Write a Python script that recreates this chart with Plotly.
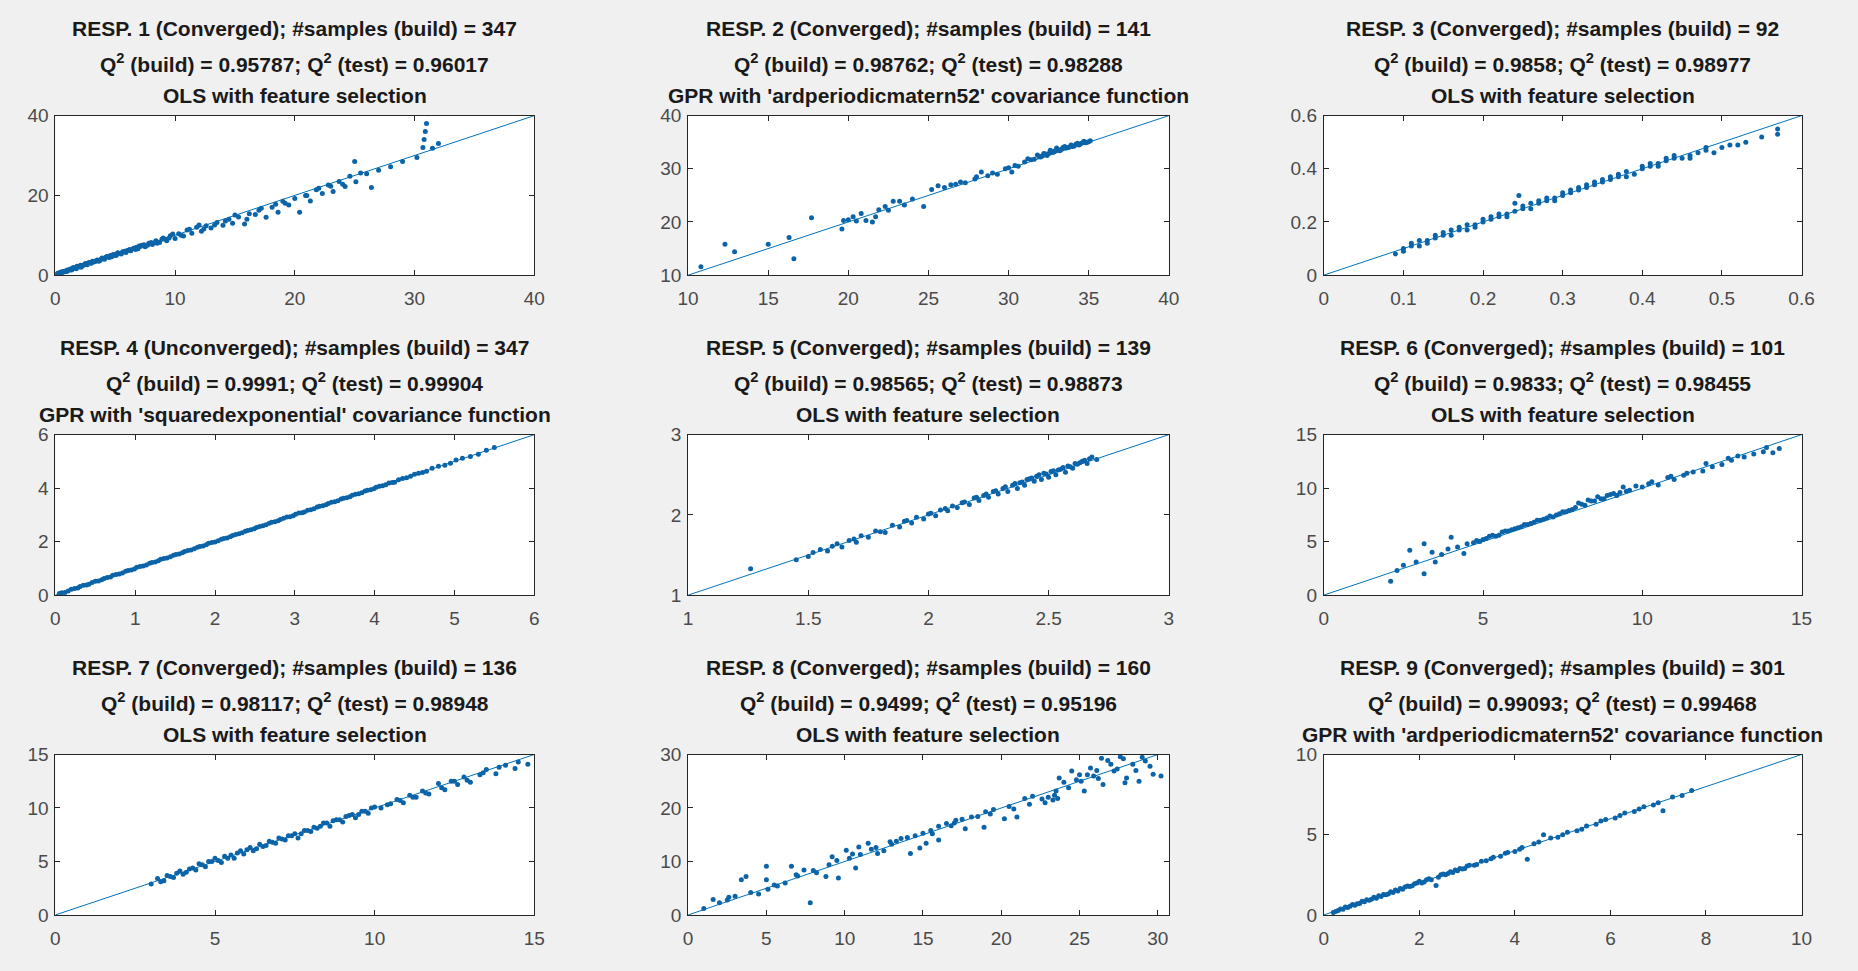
import plotly.graph_objects as go

# ---- observed vs. predicted values for each response ----
x1 = [0.1, 0.2, 0.3, 0.4, 0.5, 0.6, 0.7, 0.8, 0.9, 1.0, 1.1, 1.2, 1.3, 1.4, 1.5, 1.6, 1.7, 1.8, 2.0, 2.1,
      2.2, 2.3, 2.5, 2.6, 2.7, 2.8, 3.0, 3.1, 3.2, 3.3, 3.5, 3.7, 3.9, 4.1, 4.3, 4.5, 4.6, 4.8, 5.0, 5.2,
      5.5, 5.6, 5.8, 6.0, 6.3, 6.6, 6.7, 6.9, 7.0, 7.2, 7.5, 7.8, 8.1, 8.4, 8.5, 8.7, 9.0, 9.3, 9.6, 9.8,
      10.0, 10.3, 10.7, 11.0, 11.4, 11.8, 12.0, 12.2, 12.6, 13.0, 13.5, 14.0, 14.5, 14.8, 15.3, 15.8, 16.2, 16.7, 17.2, 17.6,
      18.1, 18.6, 19.0, 19.5, 20.0, 20.4, 20.9, 21.3, 21.8, 22.3, 22.8, 23.2, 23.7, 24.2, 24.6, 25.1, 25.5, 25.0, 26.4, 27.0,
      28.0, 29.0, 30.2, 30.7, 30.8, 30.9, 31.0, 31.2, 31.5, 32.0,
      0.15, 0.35, 0.55, 0.75, 0.95, 1.15, 1.35, 1.55, 1.75, 1.95, 2.15, 2.4, 2.65, 2.9, 3.4, 3.6, 3.8, 4.0, 4.2, 4.4,
      4.7, 4.9, 5.1, 5.3, 5.7, 5.9, 6.2, 6.5, 6.8, 7.1, 7.4, 7.7, 8.0, 8.3, 8.9, 9.2, 9.5, 10.5, 11.2, 12.4,
      13.3, 14.2, 15.0, 16.0, 17.0, 18.4, 19.2, 21.0, 22.0, 23.0, 24.0, 26.0]
y1 = [0.2, 0.5, 0.4, 0.7, 0.6, 0.9, 0.8, 1.0, 1.1, 1.3, 1.2, 1.4, 1.6, 1.5, 1.9, 1.7, 1.8, 2.2, 2.1, 2.5,
      2.3, 2.4, 2.9, 2.7, 2.9, 3.2, 3.0, 3.5, 3.3, 3.4, 3.8, 3.6, 4.3, 4.0, 4.7, 4.4, 4.9, 5.1, 4.9, 5.6,
      5.3, 5.8, 6.0, 6.2, 6.1, 6.8, 6.4, 6.6, 7.3, 7.5, 7.1, 8.0, 7.7, 8.6, 8.0, 8.2, 9.3, 8.6, 9.9, 10.3,
      9.2, 10.4, 9.8, 11.3, 10.5, 12.0, 12.6, 11.0, 12.4, 11.8, 13.2, 12.5, 14.0, 13.0, 14.6, 12.8, 15.4, 15.2, 16.8, 14.5,
      17.0, 15.8, 18.5, 17.6, 19.2, 15.8, 20.0, 18.6, 21.4, 20.5, 22.6, 21.0, 23.5, 22.2, 24.8, 23.4, 25.6, 28.5, 22.0, 26.3,
      27.2, 28.5, 29.5, 32.0, 34.0, 36.0, 38.0, 40.5, 31.8, 33.0,
      0.3, 0.3, 0.7, 0.9, 0.9, 1.3, 1.3, 1.7, 1.6, 2.1, 2.0, 2.6, 2.6, 3.1, 3.6, 3.5, 4.0, 4.1, 4.5, 4.6,
      4.6, 5.2, 5.0, 5.5, 5.9, 5.7, 6.4, 6.7, 7.0, 7.2, 7.6, 7.5, 8.2, 8.1, 9.0, 9.0, 9.3, 10.0, 11.5, 11.6,
      12.6, 13.6, 15.1, 14.0, 16.3, 17.8, 18.0, 20.0, 21.8, 22.3, 22.8, 25.4]

x2 = [10.8, 12.3, 12.9, 15.0, 16.3, 16.6, 17.7, 19.6, 19.7, 20.0, 20.3, 20.5, 20.8, 21.1, 21.5, 21.7, 21.9, 22.3, 22.5, 22.8,
      23.2, 23.5, 24.0, 24.7, 25.2, 25.6, 26.0, 26.7, 27.3, 27.9, 28.3, 28.7, 29.3, 29.8, 30.2, 30.4, 30.6, 31.0, 31.2, 31.6,
      31.8, 32.0, 32.2, 32.4, 32.6, 32.8, 33.0, 33.2, 33.4, 33.5, 33.6, 33.9, 34.0, 34.3, 34.4, 34.7, 34.8, 35.1,
      31.4, 31.9, 32.1, 32.3, 32.5, 32.7, 32.9, 33.1, 33.3, 33.7, 33.8, 34.1, 34.2, 34.5, 34.6, 34.9, 35.0, 30.0, 29.0, 28.0,
      27.0, 26.4]
y2 = [11.6, 15.8, 14.4, 15.8, 17.1, 13.1, 20.8, 18.7, 20.3, 20.4, 21.0, 20.2, 21.6, 20.3, 20.0, 21.0, 22.3, 22.9, 22.2, 23.9,
      23.9, 23.2, 24.3, 22.9, 26.1, 26.8, 26.5, 27.1, 27.4, 28.1, 29.4, 28.7, 29.0, 30.0, 29.4, 30.6, 30.5, 31.3, 31.9, 31.8,
      32.6, 32.2, 32.9, 32.5, 33.5, 33.1, 33.9, 33.4, 34.0, 34.2, 33.9, 34.5, 34.2, 34.8, 34.5, 35.2, 34.9, 35.3,
      31.7, 32.3, 32.4, 32.8, 32.9, 33.2, 33.4, 33.6, 33.7, 34.0, 34.1, 34.3, 34.6, 34.7, 34.9, 35.0, 35.1, 30.2, 29.2, 28.5,
      27.5, 27.0]

x3 = [0.09, 0.10, 0.11, 0.12, 0.12, 0.13, 0.14, 0.15, 0.15, 0.16, 0.17, 0.18, 0.18, 0.19, 0.20, 0.20, 0.21, 0.22, 0.22, 0.23,
      0.24, 0.24, 0.245, 0.25, 0.26, 0.26, 0.27, 0.28, 0.28, 0.29, 0.30, 0.30, 0.31, 0.32, 0.32, 0.33, 0.33, 0.34, 0.35, 0.35,
      0.36, 0.37, 0.37, 0.38, 0.39, 0.40, 0.40, 0.41, 0.42, 0.43, 0.43, 0.44, 0.45, 0.46, 0.47, 0.48, 0.49, 0.50, 0.51, 0.52,
      0.53, 0.55, 0.57, 0.57,
      0.10, 0.11, 0.13, 0.14, 0.16, 0.17, 0.19, 0.21, 0.23, 0.25, 0.27, 0.29, 0.31, 0.34, 0.36, 0.38, 0.41, 0.42, 0.44, 0.46,
      0.48]
y3 = [0.08, 0.10, 0.11, 0.13, 0.11, 0.13, 0.14, 0.15, 0.16, 0.17, 0.17, 0.19, 0.17, 0.19, 0.20, 0.21, 0.21, 0.22, 0.23, 0.23,
      0.24, 0.27, 0.30, 0.26, 0.25, 0.27, 0.27, 0.28, 0.29, 0.29, 0.30, 0.31, 0.31, 0.33, 0.32, 0.33, 0.34, 0.34, 0.35, 0.36,
      0.36, 0.37, 0.38, 0.39, 0.38, 0.40, 0.41, 0.41, 0.42, 0.43, 0.44, 0.44, 0.44, 0.45, 0.46, 0.47, 0.46, 0.48, 0.49, 0.49,
      0.50, 0.52, 0.55, 0.53,
      0.09, 0.12, 0.12, 0.15, 0.15, 0.18, 0.18, 0.22, 0.22, 0.25, 0.28, 0.28, 0.32, 0.35, 0.37, 0.37, 0.42, 0.41, 0.45, 0.44,
      0.48]

x4 = [0.05, 0.12, 0.20, 0.28, 0.35, 0.42, 0.50, 0.58, 0.65, 0.72, 0.80, 0.88, 0.95, 1.02, 1.10, 1.18, 1.25, 1.32, 1.40, 1.48,
      1.55, 1.62, 1.70, 1.78, 1.85, 1.92, 2.00, 2.08, 2.15, 2.22, 2.30, 2.38, 2.45, 2.52, 2.60, 2.68, 2.75, 2.82, 2.90, 2.98,
      3.05, 3.12, 3.20, 3.28, 3.35, 3.42, 3.50, 3.58, 3.65, 3.72, 3.80, 3.88, 3.95, 4.02, 4.10, 4.18, 4.25, 4.35, 4.45, 4.55,
      4.65, 4.80, 4.95, 5.10, 5.30, 5.50,
      0.08, 0.16, 0.24, 0.31, 0.39, 0.46, 0.54, 0.61, 0.69, 0.76, 0.84, 0.91, 0.99, 1.06, 1.14, 1.21, 1.29, 1.36, 1.44, 1.51,
      1.59, 1.66, 1.74, 1.81, 1.89, 1.96, 2.04, 2.11, 2.19, 2.26, 2.34, 2.41, 2.49, 2.56, 2.64, 2.71, 2.79, 2.86, 2.94, 3.01,
      3.09, 3.16, 3.24, 3.31, 3.39, 3.46, 3.54, 3.61, 3.69, 3.76, 3.84, 3.91, 3.99, 4.06, 4.14, 4.22, 4.30, 4.40, 4.50, 4.60,
      4.72, 4.88, 5.02, 5.20, 5.40]
y4 = [0.06, 0.10, 0.22, 0.27, 0.37, 0.41, 0.52, 0.57, 0.66, 0.74, 0.79, 0.89, 0.94, 1.04, 1.09, 1.19, 1.24, 1.34, 1.39, 1.49,
      1.54, 1.63, 1.69, 1.79, 1.84, 1.94, 1.99, 2.09, 2.14, 2.23, 2.29, 2.39, 2.44, 2.53, 2.59, 2.69, 2.74, 2.83, 2.92, 2.97,
      3.07, 3.11, 3.19, 3.29, 3.34, 3.43, 3.49, 3.59, 3.64, 3.73, 3.79, 3.89, 3.94, 4.03, 4.09, 4.19, 4.22, 4.36, 4.44, 4.56,
      4.63, 4.82, 4.93, 5.12, 5.27, 5.52,
      0.09, 0.15, 0.25, 0.32, 0.38, 0.47, 0.53, 0.62, 0.68, 0.77, 0.83, 0.92, 0.98, 1.07, 1.13, 1.22, 1.28, 1.37, 1.43, 1.52,
      1.58, 1.67, 1.73, 1.82, 1.88, 1.97, 2.03, 2.12, 2.18, 2.27, 2.33, 2.42, 2.48, 2.57, 2.63, 2.72, 2.78, 2.87, 2.93, 3.02,
      3.08, 3.17, 3.23, 3.32, 3.38, 3.47, 3.53, 3.62, 3.68, 3.77, 3.83, 3.92, 3.98, 4.07, 4.13, 4.21, 4.31, 4.39, 4.52, 4.58,
      4.74, 4.86, 5.05, 5.18, 5.42]

x5 = [1.26, 1.45, 1.50, 1.55, 1.58, 1.62, 1.64, 1.67, 1.70, 1.72, 1.75, 1.78, 1.82, 1.85, 1.88, 1.90, 1.93, 1.95, 1.98, 2.00,
      2.03, 2.05, 2.08, 2.10, 2.12, 2.15, 2.17, 2.19, 2.21, 2.23, 2.25, 2.27, 2.29, 2.31, 2.33, 2.35, 2.37, 2.39, 2.40, 2.42,
      2.44, 2.45, 2.47, 2.48, 2.50, 2.52, 2.53, 2.55, 2.57, 2.58, 2.60, 2.62, 2.64, 2.66, 2.68, 2.70,
      1.52, 1.60, 1.69, 1.80, 1.91, 2.01, 2.07, 2.14, 2.20, 2.24, 2.28, 2.32, 2.36, 2.38, 2.41, 2.43, 2.46, 2.49, 2.51, 2.54,
      2.56, 2.59, 2.61, 2.63, 2.65, 2.67]
y5 = [1.33, 1.44, 1.48, 1.57, 1.55, 1.64, 1.60, 1.68, 1.66, 1.74, 1.72, 1.80, 1.78, 1.87, 1.85, 1.92, 1.90, 1.97, 1.95, 2.01,
      1.99, 2.06, 2.05, 2.11, 2.09, 2.16, 2.13, 2.21, 2.18, 2.24, 2.22, 2.29, 2.26, 2.33, 2.29, 2.37, 2.33, 2.41, 2.37, 2.45,
      2.42, 2.48, 2.44, 2.52, 2.47, 2.55, 2.50, 2.57, 2.53, 2.61, 2.58, 2.63, 2.67, 2.64, 2.72, 2.69,
      1.53, 1.61, 1.70, 1.79, 1.93, 2.02, 2.08, 2.15, 2.22, 2.26, 2.30, 2.35, 2.39, 2.40, 2.44, 2.46, 2.50, 2.51, 2.54, 2.56,
      2.59, 2.60, 2.64, 2.65, 2.68, 2.70]

x6 = [2.1, 2.3, 2.5, 2.7, 2.9, 3.15, 3.15, 3.4, 3.5, 3.7, 3.9, 4.0, 4.2, 4.4, 4.5, 4.7, 4.9, 5.1, 5.3, 5.5,
      5.7, 5.9, 6.1, 6.3, 6.5, 6.7, 6.9, 7.1, 7.3, 7.5, 7.7, 7.9, 8.0, 8.2, 8.3, 8.5, 8.6, 8.8, 9.0, 9.2,
      9.4, 9.6, 9.8, 10.0, 10.3, 10.5, 10.8, 11.0, 11.3, 11.6, 11.9, 12.2, 12.5, 12.8, 13.2, 13.5, 13.8, 14.1, 14.3,
      4.8, 5.0, 5.2, 5.4, 5.6, 5.8, 6.0, 6.2, 6.4, 6.6, 6.8, 7.0, 7.2, 7.4, 7.6, 7.8, 8.1, 8.4, 8.7, 8.9,
      9.1, 9.3, 9.5, 10.2, 10.9, 11.4, 12.0, 12.7, 13.0, 13.9]
y6 = [1.3, 2.3, 2.8, 4.2, 3.1, 4.8, 2.0, 4.0, 3.1, 3.8, 4.3, 5.4, 4.5, 3.9, 4.8, 4.9, 5.0, 5.3, 5.6, 5.6,
      6.0, 6.1, 6.3, 6.6, 6.7, 7.0, 7.1, 7.4, 7.5, 7.8, 7.9, 8.2, 8.6, 8.4, 8.9, 8.8, 9.2, 9.0, 9.4, 9.3,
      10.1, 9.8, 10.2, 10.1, 10.6, 10.3, 11.0, 10.8, 11.2, 11.5, 11.6, 12.0, 12.2, 12.6, 12.9, 13.2, 13.4, 13.3, 13.7,
      5.1, 5.2, 5.5, 5.5, 5.9, 6.0, 6.2, 6.4, 6.6, 6.8, 7.0, 7.2, 7.3, 7.6, 7.8, 8.0, 8.5, 8.8, 9.0, 9.3,
      9.5, 9.6, 9.7, 10.4, 11.1, 11.4, 12.3, 12.8, 13.0, 13.8]

x7 = [3.0, 3.2, 3.4, 3.5, 3.7, 3.9, 4.0, 4.2, 4.4, 4.5, 4.7, 4.9, 5.0, 5.2, 5.3, 5.5, 5.6, 5.8, 5.9, 6.1,
      6.2, 6.4, 6.5, 6.7, 6.9, 7.0, 7.2, 7.4, 7.6, 7.8, 8.0, 8.2, 8.4, 8.6, 8.8, 9.0, 9.2, 9.4, 9.6, 9.8,
      10.0, 10.2, 10.5, 10.7, 10.9, 11.1, 11.3, 11.5, 11.7, 12.0, 12.2, 12.4, 12.6, 12.8, 13.0, 13.3, 13.5, 13.8, 14.1, 14.4,
      14.8,
      3.3, 3.6, 3.8, 4.1, 4.3, 4.6, 4.8, 5.1, 5.4, 5.7, 6.0, 6.3, 6.6, 6.8, 7.1, 7.3, 7.5, 7.7, 7.9, 8.1,
      8.3, 8.5, 8.7, 8.9, 9.1, 9.3, 9.5, 9.7, 9.9, 10.4, 10.8, 11.2, 11.6, 12.1, 12.5, 12.9, 13.4, 13.9, 14.5]
y7 = [2.9, 3.4, 3.2, 3.7, 3.5, 4.1, 3.8, 4.3, 4.2, 4.8, 4.5, 5.0, 5.3, 4.9, 5.5, 5.6, 5.3, 6.0, 5.7, 6.3,
      6.0, 6.6, 6.4, 6.9, 6.7, 7.2, 7.0, 7.4, 7.2, 7.9, 7.8, 8.1, 8.6, 8.3, 8.9, 8.7, 9.3, 9.1, 9.7, 9.5,
      10.1, 10.0, 10.4, 10.8, 10.5, 11.2, 11.0, 11.6, 11.3, 12.3, 11.7, 12.5, 12.2, 12.9, 12.4, 13.1, 13.6, 13.2, 14.0, 13.7,
      14.1,
      3.1, 3.6, 3.9, 4.0, 4.4, 4.7, 5.0, 5.1, 5.3, 5.8, 6.1, 6.2, 6.5, 6.8, 7.1, 7.4, 7.6, 7.6, 7.9, 8.2,
      8.3, 8.6, 8.8, 8.9, 9.2, 9.4, 9.4, 9.7, 10.0, 10.3, 10.7, 11.0, 11.4, 11.9, 12.5, 12.6, 13.3, 13.8, 14.3]

x8 = [1.6, 2.0, 2.6, 3.4, 3.7, 4.5, 5.0, 5.0, 5.1, 5.7, 6.6, 6.9, 7.4, 7.8, 8.2, 8.8, 9.2, 9.6, 10.1, 10.7,
      10.9, 11.5, 12.1, 12.9, 13.6, 14.2, 14.8, 15.2, 15.6, 16.0, 16.5, 17.1, 17.7, 18.1, 18.9, 19.3, 20.2, 20.8, 21.0, 21.8,
      22.6, 22.8, 23.5, 23.7, 24.3, 24.5, 25.1, 25.3, 25.7, 25.9, 26.4, 26.5, 27.0, 27.2, 27.6, 28.0, 28.4, 28.8, 29.2, 29.7,
      30.2, 1.0, 2.5, 3.0, 4.0, 5.5, 6.2, 7.0, 8.0, 9.0, 9.5, 10.3, 11.0, 12.0, 13.0, 14.0, 15.0, 16.0, 16.8, 17.5,
      18.5, 19.5, 20.5, 21.5, 23.0, 23.3, 23.6, 23.4,
      24.0, 24.8, 25.5, 26.1, 26.8, 27.4, 27.8, 28.6, 29.0, 29.5, 26.2, 27.9, 25.0, 22.0, 19.0, 17.0, 15.5, 14.5, 13.3, 12.5,
      11.7, 10.5]
y8 = [2.9, 2.3, 3.3, 6.6, 7.2, 3.9, 9.1, 6.6, 4.8, 5.4, 9.1, 7.5, 8.4, 2.3, 7.9, 7.2, 10.9, 6.9, 12.1, 8.8,
      12.7, 13.4, 11.5, 13.7, 14.3, 11.5, 12.5, 13.4, 15.2, 14.0, 17.1, 17.7, 16.1, 18.3, 16.4, 18.9, 18.0, 19.8, 18.3, 20.7,
      21.7, 21.0, 23.2, 25.6, 23.8, 26.9, 25.0, 23.2, 27.5, 26.0, 29.3, 24.4, 28.2, 26.9, 29.6, 25.6, 28.2, 25.0, 28.8, 26.3,
      26.0, 1.2, 2.8, 3.5, 4.2, 5.6, 6.0, 7.3, 8.3, 9.4, 10.2, 10.6, 11.3, 12.6, 13.2, 14.5, 15.3, 16.6, 16.7, 17.9,
      18.4, 19.7, 20.3, 21.8, 22.0, 21.5, 21.8, 22.4,
      24.8, 25.3, 26.2, 27.0, 28.9, 27.3, 29.2, 27.0, 29.5, 27.8, 25.5, 24.7, 26.2, 22.2, 19.3, 17.2, 15.8, 14.8, 13.8, 12.0,
      12.3, 11.4]

x9 = [0.2, 0.3, 0.35, 0.45, 0.5, 0.6, 0.75, 0.8, 0.9, 1.0, 1.1, 1.15, 1.3, 1.4, 1.55, 1.6, 1.7, 1.8, 1.95, 2.0,
      2.1, 2.2, 2.35, 2.4, 2.5, 2.6, 2.75, 2.8, 2.9, 3.0, 3.15, 3.3, 3.4, 3.55, 3.7, 3.85, 4.0, 4.15, 4.26, 4.4,
      4.6, 4.75, 4.9, 5.1, 5.3, 5.5, 5.7, 5.9, 6.1, 6.3, 6.5, 6.7, 6.9, 7.1, 7.3, 7.5, 7.7,
      0.25, 0.4, 0.55, 0.65, 0.7, 0.85, 0.95, 1.05, 1.2, 1.25, 1.35, 1.45, 1.5, 1.65, 1.75, 1.85, 1.9, 2.05, 2.15, 2.25,
      2.45, 2.55, 2.65, 2.7, 2.85, 2.95, 3.05, 3.2, 3.5, 3.8, 4.1, 4.5, 5.0, 5.4, 5.8, 6.2, 6.6, 7.0]
y9 = [0.15, 0.28, 0.38, 0.50, 0.46, 0.65, 0.72, 0.85, 0.95, 0.98, 1.05, 1.20, 1.26, 1.45, 1.50, 1.65, 1.74, 1.78, 2.00, 2.10,
      2.05, 2.26, 1.84, 2.35, 2.55, 2.58, 2.80, 2.75, 2.86, 3.05, 3.10, 3.35, 3.38, 3.60, 3.66, 3.90, 3.96, 4.20, 3.47, 4.44,
      5.00, 4.80, 4.85, 5.15, 5.25, 5.55, 5.65, 5.95, 6.05, 6.35, 6.45, 6.75, 6.85, 6.50, 7.35, 7.45, 7.75,
      0.22, 0.35, 0.55, 0.60, 0.70, 0.82, 0.92, 1.10, 1.15, 1.28, 1.30, 1.40, 1.55, 1.60, 1.80, 1.82, 1.95, 2.00, 2.20, 2.20,
      2.50, 2.50, 2.70, 2.65, 2.90, 2.90, 3.10, 3.15, 3.50, 3.85, 4.10, 4.55, 5.00, 5.35, 5.85, 6.20, 6.60, 7.00]

xs = [x1, x2, x3, x4, x5, x6, x7, x8, x9]
ys = [y1, y2, y3, y4, y5, y6, y7, y8, y9]

# ---- panel headings ----
headers = [
    "RESP. 1 (Converged); #samples (build) = 347",
    "RESP. 2 (Converged); #samples (build) = 141",
    "RESP. 3 (Converged); #samples (build) = 92",
    "RESP. 4 (Unconverged); #samples (build) = 347",
    "RESP. 5 (Converged); #samples (build) = 139",
    "RESP. 6 (Converged); #samples (build) = 101",
    "RESP. 7 (Converged); #samples (build) = 136",
    "RESP. 8 (Converged); #samples (build) = 160",
    "RESP. 9 (Converged); #samples (build) = 301",
]
q2_build = ["0.95787", "0.98762", "0.9858", "0.9991", "0.98565", "0.9833", "0.98117", "0.9499", "0.99093"]
q2_test = ["0.96017", "0.98288", "0.98977", "0.99904", "0.98873", "0.98455", "0.98948", "0.95196", "0.99468"]
models = [
    "OLS with feature selection",
    "GPR with 'ardperiodicmatern52' covariance function",
    "OLS with feature selection",
    "GPR with 'squaredexponential' covariance function",
    "OLS with feature selection",
    "OLS with feature selection",
    "OLS with feature selection",
    "OLS with feature selection",
    "GPR with 'ardperiodicmatern52' covariance function",
]

# ---- axis limits and tick values ----
x_ranges = [[0, 40], [10, 40], [0, 0.6], [0, 6], [1, 3], [0, 15], [0, 15], [0, 30.7], [0, 10]]
y_ranges = [[0, 40], [10, 40], [0, 0.6], [0, 6], [1, 3], [0, 15], [0, 15], [0, 30], [0, 10]]
x_ticks = [
    [0, 10, 20, 30, 40], [10, 15, 20, 25, 30, 35, 40], [0, 0.1, 0.2, 0.3, 0.4, 0.5, 0.6],
    [0, 1, 2, 3, 4, 5, 6], [1, 1.5, 2, 2.5, 3], [0, 5, 10, 15], [0, 5, 10, 15],
    [0, 5, 10, 15, 20, 25, 30], [0, 2, 4, 6, 8, 10],
]
y_ticks = [
    [0, 20, 40], [10, 20, 30, 40], [0, 0.2, 0.4, 0.6], [0, 2, 4, 6], [1, 2, 3],
    [0, 5, 10, 15], [0, 5, 10, 15], [0, 10, 20, 30], [0, 5, 10],
]
# ends of the y = x reference line
diag_ends = [[0, 40], [10, 40], [0, 0.6], [0, 6], [1, 3], [0, 15], [0, 15], [0, 31], [0, 10]]

# ---- layout geometry (paper fractions) ----
col_domains = [[0.0242, 0.2853], [0.3692, 0.6313], [0.7158, 0.9763]]
row_domains = [[0.7209, 0.8888], [0.3841, 0.5530], [0.0474, 0.2163]]

BLUE = "#0072BD"
DOT = "#0b63a8"
AXIS = "#262626"
TICKFONT = dict(family="Liberation Sans, Arial, sans-serif", size=19, color="#4a4a4a")
TITLEFONT = dict(family="Liberation Sans, Arial, sans-serif", size=21, color="#1a1a1a")

fig = go.Figure()
layout = dict(
    width=1858, height=971,
    margin=dict(l=0, r=0, t=0, b=0),
    paper_bgcolor="#f0f0f0",
    plot_bgcolor="#ffffff",
    showlegend=False,
    annotations=[],
)

for i in range(9):
    r, c = divmod(i, 3)
    n = "" if i == 0 else str(i + 1)
    xa, ya = "x" + n, "y" + n

    fig.add_trace(go.Scatter(
        x=diag_ends[i], y=diag_ends[i], mode="lines",
        line=dict(color=BLUE, width=1), xaxis=xa, yaxis=ya, hoverinfo="skip",
    ))
    fig.add_trace(go.Scatter(
        x=xs[i], y=ys[i], mode="markers",
        marker=dict(color=DOT, size=5, line=dict(width=0)),
        xaxis=xa, yaxis=ya,
    ))

    common = dict(
        showgrid=False, zeroline=False, showline=True, linecolor=AXIS, linewidth=1,
        mirror="allticks", ticks="inside", ticklen=5, tickcolor=AXIS, tickwidth=1,
        tickfont=TICKFONT, fixedrange=True,
    )
    layout["xaxis" + n] = dict(common, domain=col_domains[c], range=x_ranges[i],
                               tickvals=x_ticks[i], anchor=ya, ticklabelstandoff=6)
    layout["yaxis" + n] = dict(common, domain=row_domains[r], range=y_ranges[i],
                               tickvals=y_ticks[i], anchor=xa, ticklabelstandoff=2)

    cx = (col_domains[c][0] + col_domains[c][1]) / 2
    top = row_domains[r][1]
    lines = [
        headers[i],
        "Q<sup>2</sup> (build) = " + q2_build[i] + "; Q<sup>2</sup> (test) = " + q2_test[i],
        models[i],
    ]
    for text, shift in zip(lines, [87, 53, 20]):
        layout["annotations"].append(dict(
            text="<b>" + text + "</b>", x=cx, y=top, xref="paper", yref="paper",
            xanchor="center", yanchor="middle", yshift=shift, showarrow=False,
            font=TITLEFONT,
        ))

fig.update_layout(**layout)
fig.write_html("out.html")
